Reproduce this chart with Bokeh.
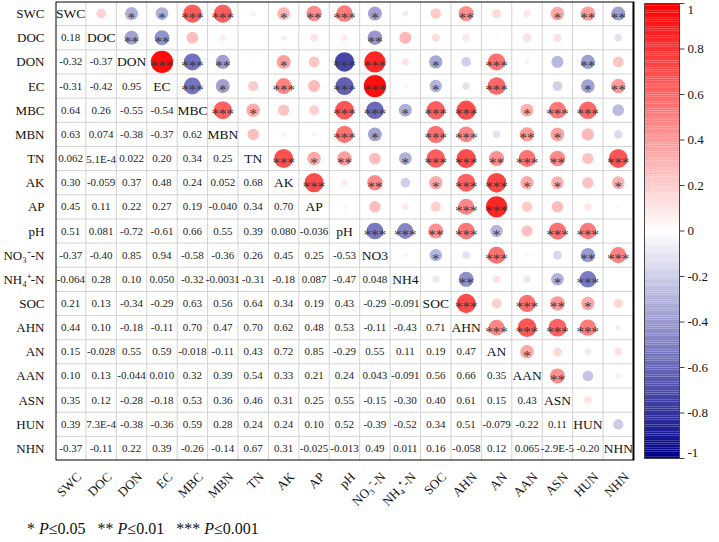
import math
from bokeh.plotting import figure
from bokeh.layouts import column
from bokeh.models import ColumnDataSource, Range1d, FixedTicker, LinearColorMapper, Div
from bokeh.embed import file_html
from bokeh.resources import INLINE

# ---------------- data ----------------
variables = ["SWC", "DOC", "DON", "EC", "MBC", "MBN", "TN", "AK", "AP", "pH",
             "NO3", "NH4", "SOC", "AHN", "AN", "AAN", "ASN", "HUN", "NHN"]
axis_labels = ["SWC", "DOC", "DON", "EC", "MBC", "MBN", "TN", "AK", "AP", "pH",
               "NO₃⁻-N", "NH₄⁺-N", "SOC", "AHN", "AN", "AAN", "ASN", "HUN", "NHN"]

# lower triangle correlations, row by row (columns SWC ... previous variable)
r_DOC = [0.18]
r_DON = [-0.32, -0.37]
r_EC = [-0.31, -0.42, 0.95]
r_MBC = [0.64, 0.26, -0.55, -0.54]
r_MBN = [0.63, 0.074, -0.38, -0.37, 0.62]
r_TN = [0.062, 5.1e-4, 0.022, 0.20, 0.34, 0.25]
r_AK = [0.30, -0.059, 0.37, 0.48, 0.24, 0.052, 0.68]
r_AP = [0.45, 0.11, 0.22, 0.27, 0.19, -0.040, 0.34, 0.70]
r_pH = [0.51, 0.081, -0.72, -0.61, 0.66, 0.55, 0.39, 0.080, -0.036]
r_NO3 = [-0.37, -0.40, 0.85, 0.94, -0.58, -0.36, 0.26, 0.45, 0.25, -0.53]
r_NH4 = [-0.064, 0.28, 0.10, 0.050, -0.32, -0.0031, -0.31, -0.18, 0.087, -0.47, 0.048]
r_SOC = [0.21, 0.13, -0.34, -0.29, 0.63, 0.56, 0.64, 0.34, 0.19, 0.43, -0.29, -0.091]
r_AHN = [0.44, 0.10, -0.18, -0.11, 0.70, 0.47, 0.70, 0.62, 0.48, 0.53, -0.11, -0.43, 0.71]
r_AN = [0.15, -0.028, 0.55, 0.59, -0.018, -0.11, 0.43, 0.72, 0.85, -0.29, 0.55, 0.11, 0.19, 0.47]
r_AAN = [0.10, 0.13, -0.044, 0.010, 0.32, 0.39, 0.54, 0.33, 0.21, 0.24, 0.043, -0.091, 0.56, 0.66, 0.35]
r_ASN = [0.35, 0.12, -0.28, -0.18, 0.53, 0.36, 0.46, 0.31, 0.25, 0.55, -0.15, -0.30, 0.40, 0.61, 0.15, 0.43]
r_HUN = [0.39, 7.3e-4, -0.38, -0.36, 0.59, 0.28, 0.24, 0.24, 0.10, 0.52, -0.39, -0.52, 0.34, 0.51, -0.079, -0.22, 0.11]
r_NHN = [-0.37, -0.11, 0.22, 0.39, -0.26, -0.14, 0.67, 0.31, -0.025, -0.013, 0.49, 0.011, 0.16, -0.058, 0.12, 0.065, -2.9e-5, -0.20]
lower_rows = [[], r_DOC, r_DON, r_EC, r_MBC, r_MBN, r_TN, r_AK, r_AP, r_pH, r_NO3,
              r_NH4, r_SOC, r_AHN, r_AN, r_AAN, r_ASN, r_HUN, r_NHN]

# significance stars (number of *) in the upper triangle, row by row (columns after the diagonal)
s_SWC = [0, 1, 1, 3, 3, 0, 1, 2, 3, 1, 0, 0, 2, 0, 0, 1, 2, 2]
s_DOC = [2, 2, 0, 0, 0, 0, 0, 0, 2, 0, 0, 0, 0, 0, 0, 0, 0]
s_DON = [3, 3, 2, 0, 1, 0, 3, 3, 0, 1, 0, 3, 0, 0, 2, 0]
s_EC = [3, 1, 0, 3, 0, 3, 3, 0, 1, 0, 3, 0, 0, 1, 2]
s_MBC = [3, 1, 0, 0, 3, 3, 1, 3, 3, 0, 1, 3, 3, 0]
s_MBN = [0, 0, 0, 3, 1, 0, 3, 3, 0, 2, 1, 0, 0]
s_TN = [3, 1, 2, 0, 1, 3, 3, 2, 3, 2, 0, 3]
s_AK = [3, 0, 2, 0, 1, 3, 3, 1, 1, 0, 1]
s_AP = [0, 0, 0, 0, 3, 3, 0, 0, 0, 0]
s_pH = [3, 3, 2, 3, 1, 0, 3, 3, 0]
s_NO3 = [0, 1, 0, 3, 0, 0, 2, 3]
s_NH4 = [0, 2, 0, 0, 1, 3, 0]
s_SOC = [3, 0, 3, 2, 1, 0]
s_AHN = [3, 3, 3, 3, 0]
s_AN = [1, 0, 0, 0]
s_AAN = [2, 0, 0]
s_ASN = [0, 0]
s_HUN = [0]
upper_sig = [s_SWC, s_DOC, s_DON, s_EC, s_MBC, s_MBN, s_TN, s_AK, s_AP, s_pH,
             s_NO3, s_NH4, s_SOC, s_AHN, s_AN, s_AAN, s_ASN, s_HUN, []]

cb_ticks = [-1, -0.8, -0.6, -0.4, -0.2, 0, 0.2, 0.4, 0.6, 0.8, 1]
cb_labels = ["-1", "-0.8", "-0.6", "-0.4", "-0.2", "0", "0.2", "0.4", "0.6", "0.8", "1"]

# significance legend
legend_stars = ["*", "**", "***"]
legend_levels = ["0.05", "0.01", "0.001"]

FONT = "Liberation Serif"
N = len(variables)

# ---------------- layout constants ----------------
LEFT, TOP, BOTTOM = 49, 1, 44
FRAME_W, FRAME_H = 654, 459
CELL_W = 30.42
X_END = FRAME_W / CELL_W
ROW_H = FRAME_H / N
CB_L, CB_R = 589 / CELL_W, 624 / CELL_W
CB_T, CB_B = 2 / ROW_H, (FRAME_H - 2) / ROW_H
TICK_LEN = 5 / CELL_W
LAB_X = CB_R + 8 / CELL_W
LAB_MIN, LAB_MAX = 8 / ROW_H, (FRAME_H - 8) / ROW_H


def fmt(v):
    if v == 0:
        return "0"
    if abs(v) < 1e-3:
        m, e = ("%.1E" % v).split("E")
        return "%sE%d" % (m, int(e))
    dec = max(0, 2 - int(math.floor(math.log10(abs(v)))) - 1)
    return ("%." + str(dec) + "f") % v


palette = []
for k in range(256):
    t = -1 + 2 * k / 255.0
    if t < 0:
        a = -t
        c = (255 * (1 - a), 255 * (1 - a), 255 + (135 - 255) * a)
    else:
        c = (255, 255 * (1 - t), 255 * (1 - t))
    palette.append("#%02x%02x%02x" % tuple(int(round(x)) for x in c))
mapper = LinearColorMapper(palette=palette, low=-1, high=1)

lx, ly, lt = [], [], []
for i in range(N):
    for j, v in enumerate(lower_rows[i]):
        lx.append(j + 0.5)
        ly.append(i + 0.5)
        lt.append(fmt(v))

ux, uy, ur, us, ustar = [], [], [], [], []
for i in range(N):
    for k, n in enumerate(upper_sig[i]):
        j = i + 1 + k
        v = lower_rows[j][i]
        ux.append(j + 0.5)
        uy.append(i + 0.5)
        ur.append(v)
        us.append(23.0 * math.sqrt(abs(v)))
        ustar.append("*" * n)

p = figure(frame_width=FRAME_W, frame_height=FRAME_H, x_range=Range1d(0, X_END),
           y_range=Range1d(N, 0), output_backend="svg", toolbar_location=None,
           min_border_left=LEFT, min_border_right=0, min_border_top=TOP,
           min_border_bottom=BOTTOM)
p.background_fill_color = "white"
p.outline_line_color = None
p.xgrid.visible = False
p.ygrid.visible = False

gx0, gy0, gx1, gy1 = [], [], [], []
for k in range(1, N):
    gx0 += [k, 0]
    gy0 += [0, k]
    gx1 += [k, N]
    gy1 += [N, k]
p.segment(gx0, gy0, gx1, gy1, line_color="#d2d2d2", line_width=1)

usrc = ColumnDataSource(dict(x=ux, y=uy, r=ur, s=us, star=ustar))
p.scatter("x", "y", size="s", source=usrc, line_color=None,
          fill_color={"field": "r", "transform": mapper})
p.text("x", "y", text="star", source=usrc, text_align="center", text_baseline="middle",
       text_font_size="15px", text_color="#333333", y_offset=4,
       text_font={"value": FONT})

lsrc = ColumnDataSource(dict(x=lx, y=ly, t=lt))
p.text("x", "y", text="t", source=lsrc, text_align="center", text_baseline="middle",
       text_font_size="11px", text_color="#222222", text_font={"value": FONT})

dsrc = ColumnDataSource(dict(x=[k + 0.5 for k in range(N)], y=[k + 0.5 for k in range(N)], t=variables))
p.text("x", "y", text="t", source=dsrc, text_align="center", text_baseline="middle",
       text_font_size="13.5px", text_color="#111111", text_font={"value": FONT})

p.quad(left=[0], right=[N], top=[0], bottom=[N], fill_color=None,
       line_color="black", line_width=2)

# colour bar
cb_vals = [-1 + 2 * (k + 0.5) / 200 for k in range(200)]
span = CB_B - CB_T
cb_top = [CB_T + (1 - (v + 1 / 200)) / 2 * span for v in cb_vals]
cb_bot = [CB_T + (1 - (v - 1 / 200)) / 2 * span for v in cb_vals]
cbs = ColumnDataSource(dict(v=cb_vals, t=cb_top, b=cb_bot))
p.quad(left=CB_L, right=CB_R, top="t", bottom="b", source=cbs, line_color=None,
       fill_color={"field": "v", "transform": mapper})
p.quad(left=[CB_L], right=[CB_R], top=[CB_T], bottom=[CB_B], fill_color=None,
       line_color="#444444", line_width=1)
tick_y = [CB_T + (1 - v) / 2 * span for v in cb_ticks]
p.segment(x0=[CB_R] * len(tick_y), y0=tick_y, x1=[CB_R + TICK_LEN] * len(tick_y), y1=tick_y,
          line_color="#444444", line_width=1)
lab_y = [min(max(y, LAB_MIN), LAB_MAX) for y in tick_y]
p.text(x=[LAB_X] * len(lab_y), y=lab_y, text=cb_labels, text_align="left",
       text_baseline="middle", text_font_size="13px", text_color="#111111",
       text_font={"value": FONT})

centers = [k + 0.5 for k in range(N)]
x_label_pos = [c + 0.27 for c in centers]
p.xaxis.ticker = FixedTicker(ticks=x_label_pos)
p.xaxis.major_label_overrides = {c: lab for c, lab in zip(x_label_pos, axis_labels)}
p.yaxis.ticker = FixedTicker(ticks=centers)
p.yaxis.major_label_overrides = {c: lab for c, lab in zip(centers, axis_labels)}
for ax in (p.xaxis, p.yaxis):
    ax.axis_line_color = None
    ax.major_tick_line_color = None
    ax.minor_tick_line_color = None
    ax.major_label_text_font = FONT
    ax.major_label_text_font_size = "13px"
    ax.major_label_text_color = "#111111"
p.xaxis.major_label_orientation = math.pi / 4
p.xaxis.major_label_standoff = 8
p.yaxis.major_label_standoff = 5

# legend line
legend_html = "&nbsp;&nbsp;&nbsp;".join(
    "%s&nbsp;<i>P</i>≤%s" % (s, lv) for s, lv in zip(legend_stars, legend_levels))
leg = Div(text=legend_html, width=400, height=17, margin=(3, 0, 0, 27),
          styles={"font-family": FONT, "font-size": "16px", "line-height": "17px",
                  "color": "#111111", "white-space": "nowrap"})

layout = column(p, leg, spacing=0)
open("out.html", "w").write(file_html(layout, INLINE))
